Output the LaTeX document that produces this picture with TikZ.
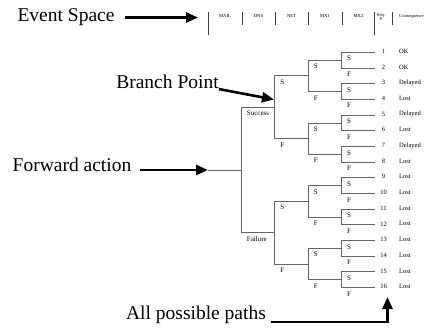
\documentclass[tikz,border=0pt]{standalone}
\usepackage{fontspec}
\setmainfont{Liberation Serif}
\usetikzlibrary{arrows.meta}

\begin{document}
\begin{tikzpicture}[x=1pt, y=-1pt,
    big/.style={font=\fontsize{19.5}{22}\selectfont, inner sep=0pt},
    hdr/.style={font=\fontsize{4.6}{4.8}\selectfont, inner sep=0.5pt},
    lab/.style={font=\fontsize{7}{8}\selectfont, inner sep=0.5pt, anchor=north west, xshift=4.5pt, yshift=-3pt, pos=0.5},
    leaf/.style={font=\fontsize{6.5}{7}\selectfont, inner sep=0.5pt},
    fat/.style={line width=2.6pt, -{Triangle[length=12pt,width=10pt]}},
    sep/.style={draw=black!75, line width=0.6pt},
    branch/.style={draw=black!60, line width=0.9pt}]
    \useasboundingbox (0,0) rectangle (438,330);

    % column heads
    \node[hdr] (mail) at (225,16) {MAIL};
    \node[hdr] (dns) at (258.5,16) {DNS};
    \node[hdr] (net) at (291.5,16) {NET};
    \node[hdr] (mxa) at (325,16) {MX1};
    \node[hdr] (mxb) at (358.5,16) {MX2};
    \node[hdr, align=center] (seq) at (381,17) {Seq.\\\#};
    \node[hdr, anchor=west] (cons) at (398.5,16) {Consequence};
    \draw[sep] (208,12) -- (208,35);
    \draw[sep] (374.5,12) -- (374.5,35);
    \foreach \x in {242,275,308,342,392} \draw[sep] (\x,12) -- (\x,24.5);

    % call-outs
    \node[big] (evt) at (66,17.5) {Event Space};
    \node[big] (bp) at (167.5,82) {Branch Point};
    \node[big] (fwd) at (72,165) {Forward action};
    \node[big] (all) at (196,315) {All possible paths};

    % the tree itself
    \coordinate (fwdTip) at (208,170);
    \coordinate (r) at (241.5,170)
        [grow'=right, level distance=33.4pt,
         level 1/.style={sibling distance=125.44pt},
         level 2/.style={sibling distance=62.72pt},
         level 3/.style={sibling distance=31.36pt},
         level 4/.style={sibling distance=15.68pt},
         edge from parent/.style={branch},
         edge from parent path={(\tikzparentnode) |- (\tikzchildnode)}]
        child foreach \a in {Success,Failure} {coordinate
            child foreach \b in {S,F} {coordinate
                child foreach \c in {S,F} {coordinate
                    child foreach \d in {S,F} {coordinate
                        edge from parent node[lab] {\d}}
                    edge from parent node[lab] {\c}}
                edge from parent node[lab] {\b}}
            edge from parent node[lab] {\a}};
    \draw[branch] (fwdTip) -- (r);

    % sequence numbers and outcomes
    \foreach \i/\res in {1/OK,2/OK,3/Delayed,4/Lost,5/Delayed,6/Lost,7/Delayed,8/Lost,
                         9/Lost,10/Lost,11/Lost,12/Lost,13/Lost,14/Lost,15/Lost,16/Lost} {
        \node[leaf] (n\i) at (383.5,{51.4+(\i-1)*15.68}) {\i};
        \node[leaf, anchor=west] (c\i) at (398.5,{51.4+(\i-1)*15.68}) {\res};
    }

    % arrows
    \coordinate (evtTip) at (198,17.5);
    \coordinate (bpTip) at (274,99.5);
    \coordinate (allTip) at (387.5,297);
    \draw[fat, shorten <=10pt] (evt.east |- evtTip) -- (evtTip);
    \draw[fat] (bp.south east) -- (bpTip);
    \draw[fat, shorten <=9pt] (fwd.east |- fwdTip) -- (fwdTip);
    \draw[fat] ([shift={(5pt,-7pt)}]all.east) -| (allTip);
\end{tikzpicture}
\end{document}
